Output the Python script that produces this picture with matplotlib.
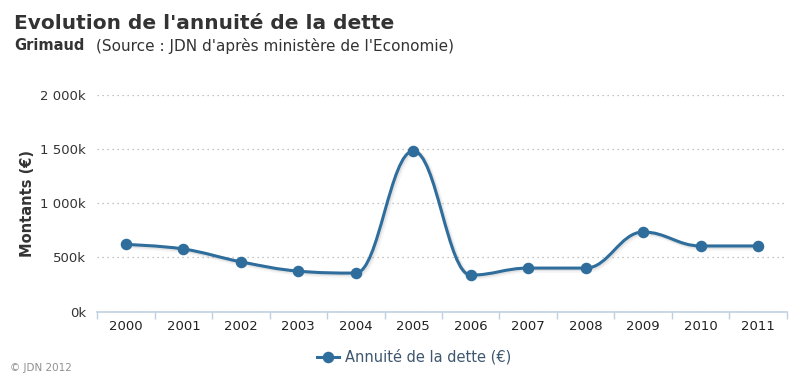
import numpy as np
import matplotlib.pyplot as plt
import matplotlib.transforms as mtransforms
from matplotlib.path import Path
from matplotlib.patches import PathPatch
from matplotlib.lines import Line2D
from matplotlib.ticker import FuncFormatter, FixedLocator

years = ["2000", "2001", "2002", "2003", "2004", "2005",
         "2006", "2007", "2008", "2009", "2010", "2011"]
annuite = [620, 578, 460, 374, 356, 1482, 337, 402, 402, 735, 606, 606]  # en milliers d'euros

line_color = "#2f6e9c"


def spline_path(xs, ys, smoothing=1.5):
    # bezier spline in the style of Highcharts
    denom = smoothing + 1
    verts = [(xs[0], ys[0])]
    codes = [Path.MOVETO]
    n = len(xs)
    conts = []
    for i in range(n):
        if i == 0 or i == n - 1:
            conts.append(None)
            continue
        px, py = xs[i], ys[i]
        lx, ly = xs[i - 1], ys[i - 1]
        nx, ny = xs[i + 1], ys[i + 1]
        lcx = (smoothing * px + lx) / denom
        lcy = (smoothing * py + ly) / denom
        rcx = (smoothing * px + nx) / denom
        rcy = (smoothing * py + ny) / denom
        corr = ((rcy - lcy) * (rcx - px)) / (rcx - lcx) + py - rcy
        lcy += corr
        rcy += corr
        if lcy > max(ly, py):
            lcy = max(ly, py)
            rcy = 2 * py - lcy
        elif lcy < min(ly, py):
            lcy = min(ly, py)
            rcy = 2 * py - lcy
        if rcy > max(ny, py):
            rcy = max(ny, py)
            lcy = 2 * py - rcy
        elif rcy < min(ny, py):
            rcy = min(ny, py)
            lcy = 2 * py - rcy
        conts.append(((lcx, lcy), (rcx, rcy)))
    for i in range(1, n):
        prev = conts[i - 1]
        cur = conts[i]
        c1 = prev[1] if prev else (xs[i - 1], ys[i - 1])
        c2 = cur[0] if cur else (xs[i], ys[i])
        verts += [c1, c2, (xs[i], ys[i])]
        codes += [Path.CURVE4] * 3
    return Path(verts, codes)


fig = plt.figure(figsize=(8, 3.81), dpi=100)
ax = fig.add_axes([0.1215, 0.182, 0.862, 0.569])

x = np.arange(len(years))
path = spline_path(list(x), annuite)

# ombre legere
for off, a in [(2.0, 0.04), (1.0, 0.07)]:
    tr = ax.transData + mtransforms.ScaledTranslation(off / 100, -off / 100, fig.dpi_scale_trans)
    ax.add_patch(PathPatch(path, fill=False, edgecolor="black", lw=2 + off, alpha=a,
                           transform=tr, zorder=2))
ax.add_patch(PathPatch(path, fill=False, edgecolor=line_color, lw=2.2, zorder=3))
ax.plot(x, annuite, "o", color=line_color, ms=7.3, zorder=4)

ax.set_xlim(-0.5, len(years) - 0.5)
ax.set_ylim(0, 2000)
ax.yaxis.set_major_locator(FixedLocator([0, 500, 1000, 1500, 2000]))
ax.yaxis.set_major_formatter(FuncFormatter(lambda v, p: f"{int(v):,}k".replace(",", " ")))
ax.grid(axis="y", color="#b0b0b0", linestyle=(0, (1, 3)), linewidth=0.9)
ax.set_axisbelow(True)

ax.set_xticks(x)
ax.set_xticklabels(years)
ax.set_xticks(np.arange(-0.5, len(years)), minor=True)
ax.tick_params(axis="x", which="major", length=0, pad=6, labelsize=9.5, colors="#222222")
ax.tick_params(axis="x", which="minor", length=5, color="#c0d0e0", width=1)
ax.tick_params(axis="y", length=0, pad=8, labelsize=9.5, colors="#333333")

for s in ["top", "right", "left"]:
    ax.spines[s].set_visible(False)
ax.spines["bottom"].set_color("#c0d0e0")
ax.spines["bottom"].set_linewidth(1.2)

ax.set_ylabel("Montants (€)", fontsize=10.5, fontweight="bold", color="#333333", labelpad=4)

fig.text(0.0175, 0.938, "Evolution de l'annuité de la dette", fontsize=14.5, fontweight="bold",
         color="#333333", va="center")
fig.text(0.0175, 0.88, "Grimaud", fontsize=10.5, fontweight="bold", color="#333333", va="center")
fig.text(0.12, 0.88, "(Source : JDN d'après ministère de l'Economie)", fontsize=11,
         color="#333333", va="center")

handle = Line2D([0], [0], color=line_color, marker="o", ms=7.3, lw=2.2)
fig.legend([handle], ["Annuité de la dette (€)"], loc="center", bbox_to_anchor=(0.518, 0.063),
           frameon=False, fontsize=10.5, handlelength=1.5, handletextpad=0.4,
           labelcolor="#3e576f")

fig.text(0.0125, 0.033, "© JDN 2012", fontsize=7.5, color="#909090", va="center")

fig.savefig("out.png", dpi=100)
